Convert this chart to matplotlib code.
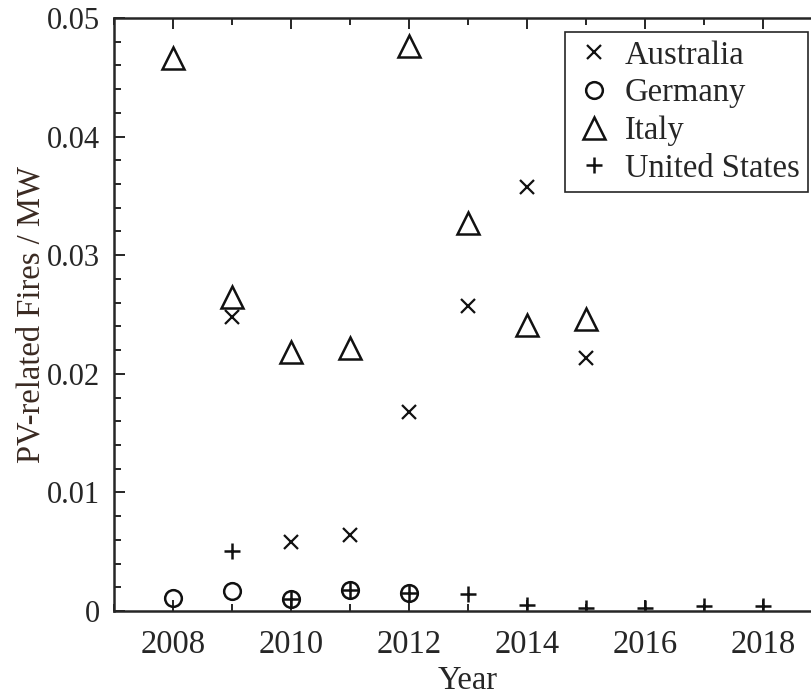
import numpy as np
import matplotlib.pyplot as plt
from matplotlib.ticker import MultipleLocator

plt.rcParams.update({
    "font.family": ["Liberation Serif", "DejaVu Serif"],
    "font.size": 23.5,
    "text.color": "#262626",
    "axes.labelcolor": "#262626",
    "xtick.color": "#262626",
    "ytick.color": "#262626",
})

# ---------------------------------------------------------
#  Data
# ---------------------------------------------------------
years_au = [2009, 2010, 2011, 2012, 2013, 2014, 2015]
fires_au = [0.0248, 0.0058, 0.0064, 0.0168, 0.0257, 0.03575, 0.0213]

years_de = [2008, 2009, 2010, 2011, 2012]
fires_de = [0.00107, 0.00169, 0.00104, 0.00177, 0.00149]

years_it = [2008, 2009, 2010, 2011, 2012, 2013, 2014, 2015]
fires_it = [0.0466, 0.0265, 0.0218, 0.0222, 0.0476, 0.0327, 0.0241, 0.0246]

years_us = [2009, 2010, 2011, 2012, 2013, 2014, 2015, 2016, 2017, 2018]
fires_us = [0.00506, 0.00104, 0.00177, 0.00149, 0.00146, 0.0005,
            0.00023, 0.00023, 0.0004, 0.0004]

INK = "#111111"
AX_COLOR = "#262626"

# ---------------------------------------------------------
#  Figure / axis (right spine falls outside the canvas)
# ---------------------------------------------------------
fig = plt.figure(figsize=(8.12, 6.94), dpi=100)
ax = fig.add_axes([114 / 812, 83 / 694, 708 / 812, 593 / 694])

ax.plot(years_au, fires_au, ls="none", marker="x", ms=10, mew=1.6,
        color=INK, label="Australia")
ax.plot(years_de, fires_de, ls="none", marker="o", ms=12, mew=1.8,
        mfc="none", color=INK, label="Germany")
ax.plot(years_it, fires_it, ls="none", marker="^", ms=16, mew=1.8,
        mfc="none", color=INK, label="Italy")
ax.plot(years_us, fires_us, ls="none", marker="+", ms=12, mew=1.8,
        color=INK, label="United States")

ax.set_xlim(2007, 2019)
ax.set_ylim(0, 0.05)
ax.xaxis.set_major_locator(MultipleLocator(2))
ax.xaxis.set_minor_locator(MultipleLocator(1))
ax.yaxis.set_minor_locator(MultipleLocator(0.002))
ax.set_yticks([0, 0.01, 0.02, 0.03, 0.04, 0.05])
ax.set_yticklabels(["0", "0.01", "0.02", "0.03", "0.04", "0.05"])

ax.tick_params(which="both", direction="in", top=True, right=True,
               width=1.4, color=AX_COLOR)
ax.tick_params(which="major", length=8)
ax.tick_params(which="minor", length=5)
ax.tick_params(axis="x", which="major", pad=13)
ax.tick_params(axis="y", which="major", pad=10, labelsize=22)
for s in ax.spines.values():
    s.set_linewidth(1.8)
    s.set_color(AX_COLOR)

ax.set_xlabel("Year", labelpad=4)
ax.set_ylabel("PV-related Fires / MW", color="#3a2a22", labelpad=0)

leg = ax.legend(loc="upper right", bbox_to_anchor=(808 / 812, 662 / 694),
                bbox_transform=fig.transFigure, borderaxespad=0,
                fancybox=False, framealpha=1, edgecolor=AX_COLOR,
                handlelength=1.3, handletextpad=0.3, labelspacing=0.22,
                borderpad=0.25, fontsize=23.5)
leg.get_frame().set_linewidth(1.2)

fig.savefig("out.png", dpi=100, facecolor="white")
